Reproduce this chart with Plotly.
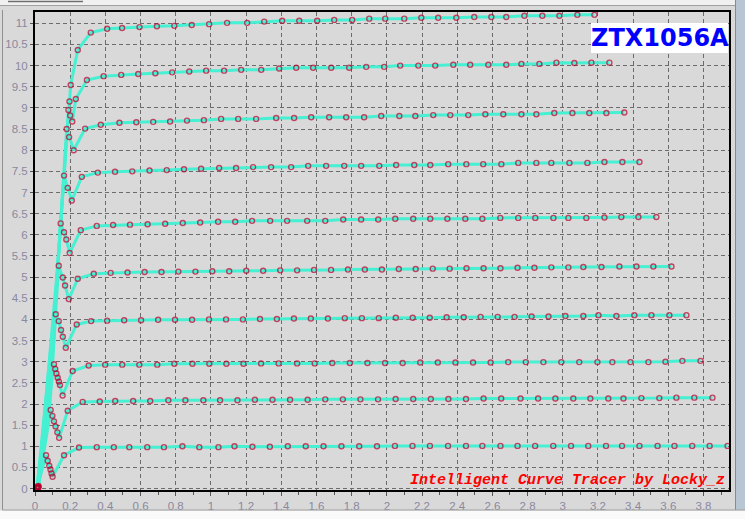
import plotly.graph_objects as go

# ---------------- data ----------------
x1 = [0.012, 0.063, 0.072, 0.081, 0.088, 0.094, 0.100, 0.165, 0.250,
      0.351, 0.448, 0.536, 0.638, 0.733, 0.838, 0.934, 1.043, 1.134, 1.236,
      1.335, 1.437, 1.539, 1.640, 1.742, 1.843, 1.944, 2.046, 2.146, 2.245,
      2.348, 2.450, 2.543, 2.646, 2.743, 2.843, 2.946, 3.047, 3.145, 3.246,
      3.337, 3.436, 3.539, 3.635, 3.736, 3.835, 3.937]
y1 = [0.02, 0.79, 0.66, 0.54, 0.45, 0.36, 0.28, 0.79, 0.97,
      0.98, 0.98, 0.98, 0.98, 0.98, 1.00, 0.98, 0.98, 1.00, 0.99,
      0.99, 1.00, 1.00, 1.00, 1.00, 1.00, 1.00, 1.01, 1.01, 1.01,
      1.01, 1.01, 1.01, 1.01, 1.01, 1.01, 1.01, 1.01, 1.01, 1.01,
      1.01, 1.01, 1.01, 1.01, 1.01, 1.01, 1.01]

x2 = [0.018, 0.089, 0.099, 0.108, 0.117, 0.127, 0.137, 0.186, 0.271,
      0.368, 0.456, 0.558, 0.655, 0.758, 0.855, 0.957, 1.052, 1.151,
      1.25, 1.35, 1.45, 1.55, 1.65, 1.75, 1.85, 1.95, 2.05, 2.15, 2.25,
      2.35, 2.45, 2.55, 2.65, 2.76, 2.86,
      2.958, 3.060, 3.157, 3.259, 3.345, 3.447, 3.549, 3.646, 3.748, 3.851]
y2 = [0.03, 1.86, 1.72, 1.59, 1.47, 1.33, 1.20, 1.84, 2.05,
      2.06, 2.07, 2.07, 2.07, 2.09, 2.09, 2.09, 2.09, 2.09,
      2.10, 2.10, 2.10, 2.10, 2.11, 2.11, 2.11, 2.11, 2.12, 2.12, 2.12,
      2.12, 2.12, 2.13, 2.13, 2.13, 2.13,
      2.13, 2.13, 2.13, 2.13, 2.13, 2.14, 2.14, 2.15, 2.15, 2.15]

x3 = [0.015, 0.108, 0.115, 0.122, 0.129, 0.136, 0.142, 0.157, 0.214, 0.305,
      0.399, 0.496, 0.593, 0.695, 0.792, 0.895, 0.991, 1.088, 1.185,
      1.285, 1.385, 1.49, 1.59, 1.69, 1.79, 1.89, 1.99, 2.09, 2.19, 2.29,
      2.39, 2.49, 2.59, 2.69, 2.79, 2.89,
      2.992, 3.094, 3.197, 3.282, 3.385, 3.487, 3.584, 3.680, 3.783]
y3 = [0.01, 2.94, 2.83, 2.72, 2.62, 2.53, 2.45, 2.20, 2.78, 2.91,
      2.93, 2.93, 2.93, 2.93, 2.95, 2.95, 2.95, 2.95, 2.95,
      2.96, 2.96, 2.96, 2.96, 2.97, 2.97, 2.97, 2.97, 2.97, 2.98, 2.98,
      2.98, 2.98, 2.98, 2.99, 2.99, 2.99,
      2.99, 2.99, 2.99, 2.99, 2.99, 2.99, 3.00, 3.02, 3.02]

x4 = [0.02, 0.085, 0.118, 0.135, 0.148, 0.158, 0.175, 0.237, 0.319,
      0.41, 0.507, 0.603, 0.70, 0.796, 0.893, 0.989, 1.086, 1.182, 1.279,
      1.375, 1.472, 1.568, 1.665, 1.761, 1.858, 1.954, 2.051, 2.147, 2.244,
      2.34, 2.437, 2.533, 2.63, 2.726, 2.823, 2.919,
      3.015, 3.117, 3.203, 3.305, 3.407, 3.504, 3.606, 3.703]
y4 = [0.04, 2.00, 4.12, 3.96, 3.75, 3.59, 3.33, 3.88, 3.96,
      3.97, 3.98, 3.98, 3.99, 3.99, 3.99, 4.00, 4.00, 4.00, 4.01,
      4.01, 4.02, 4.02, 4.02, 4.03, 4.03, 4.03, 4.04, 4.04, 4.04,
      4.05, 4.05, 4.06, 4.06, 4.06, 4.07, 4.07,
      4.08, 4.08, 4.10, 4.08, 4.10, 4.10, 4.10, 4.10]

x5 = [0.014, 0.09, 0.135, 0.158, 0.171, 0.192, 0.243, 0.334,
      0.43, 0.526, 0.623, 0.719, 0.815, 0.912, 1.008, 1.104, 1.201, 1.297,
      1.394, 1.49, 1.586, 1.683, 1.779, 1.875, 1.972, 2.068, 2.164, 2.261,
      2.357, 2.453, 2.55, 2.646, 2.743, 2.839, 2.935,
      3.032, 3.117, 3.220, 3.322, 3.419, 3.515, 3.618]
y5 = [0.05, 2.50, 5.27, 4.99, 4.80, 4.48, 4.96, 5.08,
      5.10, 5.11, 5.12, 5.12, 5.13, 5.13, 5.14, 5.14, 5.15, 5.15,
      5.16, 5.16, 5.17, 5.17, 5.18, 5.18, 5.18, 5.19, 5.19, 5.20,
      5.20, 5.21, 5.21, 5.21, 5.22, 5.22, 5.23,
      5.23, 5.24, 5.24, 5.25, 5.25, 5.25, 5.25]

x6 = [0.01, 0.095, 0.146, 0.165, 0.178, 0.197, 0.26, 0.351,
      0.444, 0.54, 0.64, 0.74, 0.84,
      0.939, 1.041, 1.138, 1.234, 1.337, 1.433, 1.547, 1.650, 1.752, 1.854,
      1.951, 2.048, 2.150, 2.247, 2.344, 2.446, 2.543, 2.645, 2.747, 2.844,
      2.947, 3.032,
      3.134, 3.237, 3.333, 3.430, 3.532]
y6 = [0.00, 3.00, 6.27, 6.06, 5.89, 5.57, 6.11, 6.21,
      6.23, 6.24, 6.25, 6.26, 6.28,
      6.29, 6.31, 6.31, 6.33, 6.33, 6.33, 6.33, 6.33, 6.36, 6.36,
      6.36, 6.38, 6.38, 6.38, 6.38, 6.38, 6.38, 6.40, 6.40, 6.40,
      6.40, 6.40,
      6.40, 6.41, 6.42, 6.42, 6.42]

x7 = [0.016, 0.10, 0.165, 0.186, 0.209, 0.266, 0.357,
      0.455, 0.553, 0.651, 0.749, 0.847,
      0.944, 1.047, 1.143, 1.240, 1.342, 1.456, 1.553, 1.655, 1.758, 1.854,
      1.957, 2.053, 2.156, 2.247, 2.349, 2.452, 2.548, 2.651, 2.747, 2.850,
      2.935, 3.038,
      3.14, 3.237, 3.339, 3.436]
y7 = [0.03, 3.50, 7.40, 7.11, 6.81, 7.37, 7.47,
      7.49, 7.50, 7.52, 7.53, 7.55,
      7.56, 7.58, 7.58, 7.60, 7.60, 7.60, 7.63, 7.63, 7.63, 7.63,
      7.63, 7.65, 7.65, 7.65, 7.67, 7.67, 7.67, 7.67, 7.70, 7.70,
      7.70, 7.70,
      7.70, 7.72, 7.72, 7.72]

x8 = [0.02, 0.11, 0.18, 0.194, 0.22, 0.285,
      0.374, 0.48, 0.576, 0.672, 0.768, 0.864,
      0.960, 1.058, 1.155, 1.257, 1.371, 1.473, 1.570, 1.672, 1.769, 1.871,
      1.968, 2.071, 2.162, 2.264, 2.361, 2.463, 2.560, 2.662, 2.765, 2.850,
      2.952,
      3.055, 3.151, 3.248, 3.350]
y8 = [0.06, 4.00, 8.50, 8.31, 8.00, 8.51,
      8.60, 8.65, 8.66, 8.67, 8.68, 8.70,
      8.71, 8.74, 8.74, 8.74, 8.76, 8.76, 8.78, 8.78, 8.78, 8.78,
      8.81, 8.81, 8.81, 8.83, 8.83, 8.83, 8.85, 8.85, 8.85, 8.85,
      8.88,
      8.88, 8.88, 8.88, 8.89]

x9 = [0.012, 0.118, 0.19, 0.20, 0.212, 0.232, 0.295,
      0.39, 0.49, 0.587, 0.684, 0.78, 0.877,
      0.973, 1.075, 1.172, 1.286, 1.388, 1.485, 1.581, 1.684, 1.786, 1.883,
      1.985, 2.076, 2.179, 2.275, 2.378, 2.474, 2.577, 2.679, 2.765, 2.867,
      2.964,
      3.066, 3.163, 3.265]
y9 = [0.02, 4.50, 8.95, 8.82, 8.68, 9.21, 9.66,
      9.75, 9.78, 9.80, 9.82, 9.84, 9.86,
      9.88, 9.88, 9.90, 9.90, 9.93, 9.95, 9.95, 9.95, 9.95, 9.97,
      9.97, 10.00, 10.00, 10.00, 10.02, 10.02, 10.02, 10.02, 10.04, 10.04,
      10.07,
      10.06, 10.07, 10.07]

x10 = [0.018, 0.123, 0.196, 0.203, 0.243, 0.317,
       0.41, 0.495, 0.594, 0.693, 0.792,
       0.891, 0.990, 1.092, 1.206, 1.303, 1.405, 1.502, 1.604, 1.701, 1.803,
       1.900, 1.991, 2.099, 2.196, 2.292, 2.395, 2.497, 2.594, 2.679, 2.782,
       2.884, 2.981,
       3.083, 3.180]
y10 = [0.04, 5.00, 9.15, 9.54, 10.37, 10.78,
       10.87, 10.89, 10.91, 10.93, 10.94,
       10.96, 10.98, 11.01, 11.01, 11.04, 11.06, 11.06, 11.06, 11.08, 11.08,
       11.11, 11.11, 11.11, 11.13, 11.13, 11.13, 11.15, 11.15, 11.15, 11.18,
       11.18, 11.18,
       11.20, 11.20]

x_tick_vals = [0, 0.2, 0.4, 0.6, 0.8, 1, 1.2, 1.4, 1.6, 1.8, 2, 2.2, 2.4,
               2.6, 2.8, 3, 3.2, 3.4, 3.6, 3.8]
x_tick_text = ["0", "0.2", "0.4", "0.6", "0.8", "1", "1.2", "1.4", "1.6",
               "1.8", "2", "2.2", "2.4", "2.6", "2.8", "3", "3.2", "3.4",
               "3.6", "3.8"]
y_tick_vals = [0, 0.5, 1, 1.5, 2, 2.5, 3, 3.5, 4, 4.5, 5, 5.5, 6, 6.5, 7,
               7.5, 8, 8.5, 9, 9.5, 10, 10.5, 11]
y_tick_text = ["0", "0.5", "1", "1.5", "2", "2.5", "3", "3.5", "4", "4.5",
               "5", "5.5", "6", "6.5", "7", "7.5", "8", "8.5", "9", "9.5",
               "10", "10.5", "11"]

device_label = "ZTX1056A"
credit_label = "Intelligent Curve Tracer by Locky_z"

# curves 4..10 have an unmarked bend point (index 1) on the saturation envelope
curves = [(x1, y1, False), (x2, y2, False), (x3, y3, False), (x4, y4, True),
          (x5, y5, True), (x6, y6, True), (x7, y7, True), (x8, y8, True),
          (x9, y9, True), (x10, y10, True)]

LINE_C = "#46f0d2"
MARK_C = "#b8002c"

fig = go.Figure()
for xs, ys, _ in curves:
    n = min(len(xs), len(ys))
    fig.add_trace(go.Scatter(x=xs[:n], y=ys[:n], mode="lines",
                             line=dict(color=LINE_C, width=3),
                             hoverinfo="skip", showlegend=False))
for xs, ys, hide_bend in curves:
    n = min(len(xs), len(ys))
    sizes = [5] * n
    if hide_bend:
        sizes[1] = 0
    fig.add_trace(go.Scatter(x=xs[:n], y=ys[:n], mode="markers",
                             marker=dict(symbol="circle-open", size=sizes,
                                         color=MARK_C,
                                         line=dict(width=1.4, color=MARK_C)),
                             hoverinfo="skip", showlegend=False))

TICK_FONT = dict(family="Liberation Sans, Arial, sans-serif", size=11.5,
                 color="#8a88a0")

fig.update_layout(
    width=745, height=519,
    margin=dict(l=35, r=16, t=12, b=29, pad=0, autoexpand=False),
    paper_bgcolor="#d9d9d9",
    plot_bgcolor="#d9d9d9",
    showlegend=False,
    xaxis=dict(range=[0, 3.945], tickmode="array", tickvals=x_tick_vals,
               ticktext=x_tick_text, showgrid=True, gridcolor="#6c6c6c",
               gridwidth=1, griddash="4px,3px", zeroline=False,
               showline=True, linecolor="black", linewidth=2, mirror=True,
               ticks="outside", ticklen=4, tickcolor="#555555",
               tickfont=TICK_FONT, automargin=False,
               minor=dict(dtick=0.1, tick0=0, ticks="outside", ticklen=3,
                          tickcolor="#555555", showgrid=False)),
    yaxis=dict(range=[-0.033, 11.267], tickmode="array",
               tickvals=y_tick_vals, ticktext=y_tick_text, showgrid=True,
               gridcolor="#6c6c6c", gridwidth=1, griddash="4px,3px",
               zeroline=False, showline=True, linecolor="black", linewidth=2,
               mirror=True, ticks="outside", ticklen=3, tickcolor="#555555",
               tickfont=TICK_FONT, automargin=False),
)


def px_x(p):
    return (p - 35) / 694.0


def px_y(p):
    return (490 - p) / 478.0


shapes = []
# white label box
shapes.append(dict(type="rect", xref="paper", yref="paper",
                   x0=px_x(591), x1=px_x(728), y0=px_y(53), y1=px_y(23),
                   fillcolor="white", line=dict(width=0), layer="above"))
# window chrome: top strip
shapes.append(dict(type="rect", xref="paper", yref="paper",
                   x0=px_x(0), x1=px_x(745), y0=px_y(5), y1=px_y(0),
                   fillcolor="#f0f0f0", line=dict(width=0), layer="above"))
shapes.append(dict(type="line", xref="paper", yref="paper",
                   x0=px_x(0), x1=px_x(745), y0=px_y(5.5), y1=px_y(5.5),
                   line=dict(color="#a0a0a0", width=1), layer="above"))
shapes.append(dict(type="line", xref="paper", yref="paper",
                   x0=px_x(8), x1=px_x(83), y0=px_y(1.5), y1=px_y(1.5),
                   line=dict(color="#707070", width=1.5), layer="above"))
# left border
shapes.append(dict(type="line", xref="paper", yref="paper",
                   x0=px_x(2.5), x1=px_x(2.5), y0=px_y(510), y1=px_y(10),
                   line=dict(color="#909090", width=1), layer="above"))
# right strip
shapes.append(dict(type="rect", xref="paper", yref="paper",
                   x0=px_x(736), x1=px_x(745), y0=px_y(510), y1=px_y(0),
                   fillcolor="#b8c6d4", line=dict(width=0), layer="above"))
shapes.append(dict(type="line", xref="paper", yref="paper",
                   x0=px_x(735.5), x1=px_x(735.5), y0=px_y(510), y1=px_y(0),
                   line=dict(color="#8a8a8a", width=1), layer="above"))
# bottom strip
shapes.append(dict(type="rect", xref="paper", yref="paper",
                   x0=px_x(0), x1=px_x(745), y0=px_y(519), y1=px_y(510.5),
                   fillcolor="#fafafa", line=dict(width=0), layer="above"))
shapes.append(dict(type="line", xref="paper", yref="paper",
                   x0=px_x(2.5), x1=px_x(745), y0=px_y(510), y1=px_y(510),
                   line=dict(color="#a0a0a0", width=1), layer="above"))
fig.update_layout(shapes=shapes)

fig.add_annotation(xref="paper", yref="paper", x=px_x(660), y=px_y(38.5),
                   xanchor="center", yanchor="middle", showarrow=False,
                   text="<b>" + device_label + "</b>",
                   font=dict(family="DejaVu Sans, Verdana, sans-serif",
                             size=24, color="#0000ff"))
fig.add_annotation(xref="paper", yref="paper", x=px_x(567), y=px_y(480),
                   xanchor="center", yanchor="middle", showarrow=False,
                   text="<b><i>" + credit_label + "</i></b>",
                   font=dict(family="Liberation Mono, Courier New, monospace",
                             size=15, color="#ff0000"))

fig.write_html("out.html", config={"displayModeBar": False},
               post_script="document.body.style.margin='0';"
                           "document.body.style.overflow='hidden';")
